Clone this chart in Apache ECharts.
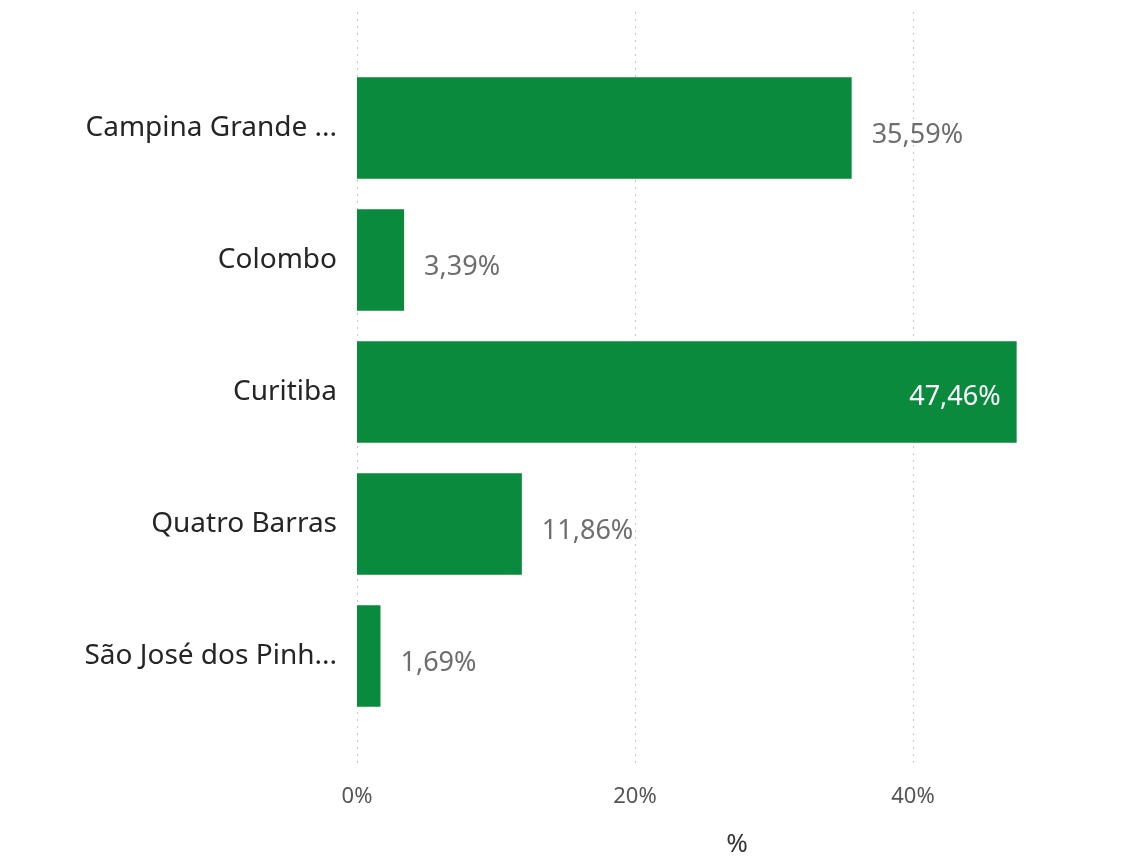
<!DOCTYPE html>
<html>
<head>
<meta charset="utf-8">
<script src="https://cdn.jsdelivr.net/npm/echarts@6/dist/echarts.min.js"></script>
<style>
  html, body { margin: 0; padding: 0; background: #fff; }
  #chart { width: 1135px; height: 857px; }
</style>
</head>
<body>
<div id="chart"></div>
<script>
const cities = ['Campina Grande ...', 'Colombo', 'Curitiba', 'Quatro Barras', 'São José dos Pinh...']
const shares = [35.59, 3.39, 47.46, 11.86, 1.69]
const tickMax = 40

const green = '#098a3d'
const fmt = v => v.toFixed(2).replace('.', ',') + '%'

const myChart = echarts.init(document.getElementById('chart'))

myChart.setOption({
  animation: false,
  textStyle: { fontFamily: 'Noto Sans' },
  grid: [
    // bars
    { left: 357, right: 18, top: 62, bottom: 135, outerBoundsMode: 'none' },
    // dotted gridlines + tick labels
    { left: 357, right: 222, top: 12, bottom: 92, outerBoundsMode: 'none' }
  ],
  xAxis: [
    {
      gridIndex: 0,
      type: 'value',
      min: 0,
      max: 54.68,
      axisLabel: { show: false },
      axisLine: { show: false },
      axisTick: { show: false },
      splitLine: { show: false },
      name: '%',
      nameLocation: 'middle',
      nameGap: 110,
      nameTextStyle: { color: '#333', fontSize: 26 }
    },
    {
      gridIndex: 1,
      type: 'value',
      min: 0,
      max: tickMax,
      interval: 20,
      axisLine: { show: false },
      axisTick: { show: false },
      axisLabel: {
        formatter: '{value}%',
        color: '#555',
        fontSize: 22,
        margin: 21
      },
      splitLine: { lineStyle: { color: '#c8c8c8', type: [2, 5], width: 1 } }
    }
  ],
  yAxis: [
    {
      gridIndex: 0,
      type: 'category',
      data: cities,
      inverse: true,
      axisLine: { show: false },
      axisTick: { show: false },
      axisLabel: { color: '#252525', fontSize: 28, margin: 20 }
    },
    {
      gridIndex: 1,
      type: 'value',
      show: false,
      min: 0,
      max: 1
    }
  ],
  series: [
    {
      type: 'bar',
      xAxisIndex: 0,
      yAxisIndex: 0,
      barCategoryGap: '23%',
      itemStyle: { color: green },
      label: {
        show: true,
        position: 'right',
        distance: 20,
        offset: [0, 7],
        color: '#6e6e6e',
        fontSize: 27,
        formatter: p => fmt(p.value)
      },
      data: shares.map(v => v === Math.max(...shares)
        ? { value: v, label: { position: 'insideRight', color: '#fff', distance: 16, offset: [0, 5] } }
        : v)
    }
  ]
})
</script>
</body>
</html>
